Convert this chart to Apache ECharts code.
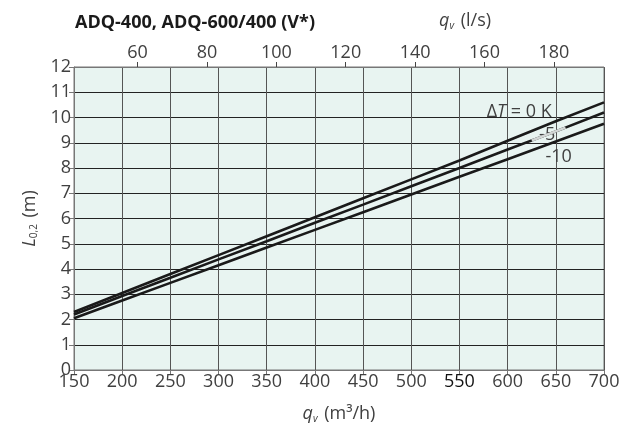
<!DOCTYPE html>
<html>
<head>
<meta charset="utf-8">
<script src="https://cdn.jsdelivr.net/npm/echarts@6/dist/echarts.min.js"></script>
<style>
html,body{margin:0;padding:0;background:#fff;}
#chart{width:629px;height:425px;}
</style>
</head>
<body>
<div id="chart"></div>
<script>
// x values (m3/h)
const flowM3h = [150, 200, 250, 300, 350, 400, 450, 500, 550, 600, 650, 700];
// throw length L0,2 (m) for each temperature difference
const dT0  = [2.30, 3.05, 3.80, 4.55, 5.30, 6.05, 6.80, 7.55, 8.30, 9.08, 9.85, 10.60];
const dT5  = [2.20, 2.93, 3.65, 4.38, 5.10, 5.83, 6.55, 7.28, 8.00, 8.73, 9.45, 10.20];
const dT10 = [2.05, 2.75, 3.45, 4.15, 4.85, 5.55, 6.25, 6.95, 7.65, 8.35, 9.05, 9.75];
// light segment behind the "-5" label
const highlightX = [625, 660];
const highlightY = [9.09, 9.60];
// top axis tick labels (l/s)
const topTicks = [60, 80, 100, 120, 140, 160, 180];
const bottomMin = 150, bottomMax = 700;
const seriesNames = ['ΔT = 0 K', '-5', '-10'];

const pairs = (xs, ys) => xs.map((x, i) => [x, ys[i]]);
const font = 'Open Sans';
const labelColor = '#404040';
const FS = 18;
const richName = {
  i: {fontSize: FS, fontStyle: 'italic', color: labelColor, fontFamily: font},
  sub: {fontSize: 10, fontStyle: 'italic', color: labelColor, padding: [10, 2, 0, 0], fontFamily: font}
};

const chart = echarts.init(document.getElementById('chart'), null, {renderer: 'canvas'});
chart.setOption({
  animation: false,
  backgroundColor: '#ffffff',
  textStyle: {fontFamily: font},
  title: [{
    text: 'ADQ-400, ADQ-600/400 (V*)',
    left: 70, top: 9,
    textStyle: {fontFamily: font, fontSize: 18, fontWeight: 'bold', color: '#1a1a1a'}
  }, {
    text: '{i|q}{sub|v} (l/s)',
    left: 434, top: 6,
    textStyle: {fontFamily: font, fontSize: FS, fontWeight: 'normal', color: labelColor, rich: richName}
  }],
  grid: {
    left: 74, right: 25, top: 67, bottom: 55,
    outerBoundsMode: 'none', containLabel: false,
    show: true, backgroundColor: '#e8f4f1', borderColor: '#777', borderWidth: 1
  },
  xAxis: [{
    type: 'value', position: 'bottom',
    min: bottomMin, max: bottomMax, interval: 50,
    axisLine: {show: true, lineStyle: {color: '#777', width: 1}},
    axisTick: {show: true, length: 5, lineStyle: {color: '#777'}},
    splitLine: {show: true, lineStyle: {color: '#555', width: 1}},
    axisLabel: {
      fontSize: FS, color: labelColor, margin: 3, fontFamily: font,
      formatter: v => v === 550 ? '{d|' + v + '}' : String(v),
      rich: {d: {fontSize: FS, color: '#111', fontFamily: font}}
    },
    name: '{i|q}{sub|v} (m³/h)',
    nameLocation: 'middle', nameGap: 34,
    nameTextStyle: {fontSize: FS, color: labelColor, fontFamily: font, rich: richName}
  }, {
    type: 'value', position: 'top',
    min: bottomMin / 3.6, max: bottomMax / 3.6,
    axisLine: {show: true, lineStyle: {color: '#777', width: 1}},
    axisTick: {show: true, length: 5, customValues: topTicks, lineStyle: {color: '#444'}},
    splitLine: {show: false},
    axisLabel: {fontSize: FS, color: labelColor, margin: 5, customValues: topTicks, fontFamily: font}
  }],
  yAxis: [{
    type: 'value', min: 0, max: 12, interval: 1,
    axisLine: {show: true, lineStyle: {color: '#777', width: 1}},
    axisTick: {show: true, length: 5, lineStyle: {color: '#777'}},
    splitLine: {show: true, lineStyle: {color: '#222', width: 1}},
    axisLabel: {fontSize: FS, color: labelColor, margin: 3, fontFamily: font},
    name: '{i|L}{sub|0,2} (m)',
    nameLocation: 'middle', nameGap: 34, nameRotate: 90,
    nameTextStyle: {
      fontSize: FS, color: labelColor, fontFamily: font,
      rich: {
        i: {fontSize: FS, fontStyle: 'italic', color: labelColor, fontFamily: font},
        sub: {fontSize: 10, color: labelColor, padding: [10, 2, 0, 0], fontFamily: font}
      }
    }
  }],
  series: [
    {
      name: seriesNames[0], type: 'line', data: pairs(flowM3h, dT0),
      symbol: 'none', lineStyle: {color: '#1a1a1a', width: 2.6}, z: 5,
      markPoint: {
        symbol: 'circle', symbolSize: 0, silent: true,
        data: [{coord: [612, 10.22]}],
        label: {
          show: true, position: 'inside',
          formatter: 'Δ{i|T} = 0 K',
          fontSize: FS, color: labelColor, fontFamily: font,
          rich: {i: {fontSize: FS, fontStyle: 'italic', color: labelColor, fontFamily: font}}
        }
      }
    },
    {
      name: seriesNames[1], type: 'line', data: pairs(flowM3h, dT5),
      symbol: 'none', lineStyle: {color: '#1a1a1a', width: 2.6}, z: 5
    },
    {
      name: seriesNames[2], type: 'line', data: pairs(flowM3h, dT10),
      symbol: 'none', lineStyle: {color: '#1a1a1a', width: 2.6}, z: 5,
      markPoint: {
        symbol: 'circle', symbolSize: 0, silent: true,
        data: [{coord: [653, 8.44]}],
        label: {show: true, position: 'inside', formatter: '-10', fontSize: FS, color: labelColor, fontFamily: font}
      }
    },
    {
      name: 'highlight', type: 'line', data: pairs(highlightX, highlightY),
      symbol: 'none', lineStyle: {color: '#d2d6d5', width: 2.6}, z: 6,
      markPoint: {
        symbol: 'circle', symbolSize: 0, silent: true,
        data: [{coord: [641, 9.3]}],
        label: {show: true, position: 'inside', formatter: '-5', fontSize: FS, color: labelColor, fontFamily: font}
      }
    }
  ]
});
</script>
</body>
</html>
